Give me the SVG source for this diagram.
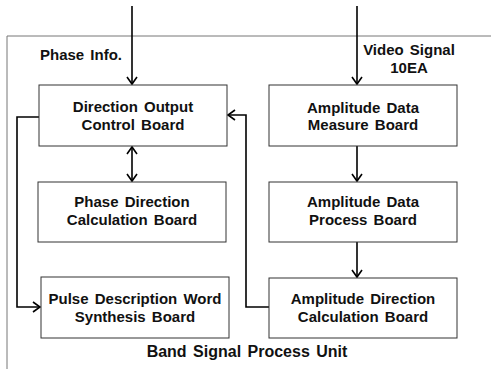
<svg xmlns="http://www.w3.org/2000/svg" width="491" height="369" viewBox="0 0 491 369">
<defs>
<marker id="ah" markerUnits="userSpaceOnUse" markerWidth="14" markerHeight="14" viewBox="-12 -7 14 14" refX="0" refY="0" orient="auto-start-reverse">
<path d="M-7,-5 L0,0 L-7,5" fill="none" stroke="#000" stroke-width="1.6"/>
</marker>
<style>
.box{fill:#fff;stroke:#333;stroke-width:1}
.t{font-family:"Liberation Sans",Arial,sans-serif;font-weight:bold;font-size:15px;fill:#111;text-anchor:middle;word-spacing:2px}
.c{fill:none;stroke:#000;stroke-width:1.6}
</style>
</defs>
<rect width="491" height="369" fill="#fff"/>
<g id="unit">
<path d="M7,369 L7,36 L491,36" fill="none" stroke="#777" stroke-width="1"/>
<text class="t" x="247" y="357" font-size="16" style="font-size:16px">Band Signal Process Unit</text>
</g>
<g id="labels">
<text class="t" x="81" y="60">Phase Info.</text>
<text class="t" x="409" y="55">Video Signal</text>
<text class="t" x="409" y="73">10EA</text>
</g>
<g id="connectors">
<line class="c" x1="132" y1="6" x2="132" y2="84" marker-end="url(#ah)"/>
<line class="c" x1="357" y1="6" x2="357" y2="84" marker-end="url(#ah)"/>
<line class="c" x1="132" y1="147" x2="132" y2="181" marker-start="url(#ah)" marker-end="url(#ah)"/>
<line class="c" x1="357" y1="146" x2="357" y2="181" marker-end="url(#ah)"/>
<line class="c" x1="357" y1="242" x2="357" y2="277" marker-end="url(#ah)"/>
<polyline class="c" points="39,117 17,117 17,307 40,307" marker-end="url(#ah)"/>
<polyline class="c" points="269,307 246,307 246,115 228,115" marker-end="url(#ah)"/>
</g>
<g id="n1"><rect class="box" x="39" y="85" width="188" height="61"/><text class="t" x="133" y="112">Direction Output</text><text class="t" x="133" y="130">Control Board</text></g>
<g id="n2"><rect class="box" x="269" y="85" width="188" height="61"/><text class="t" x="363" y="113">Amplitude Data</text><text class="t" x="363" y="130">Measure Board</text></g>
<g id="n3"><rect class="box" x="38" y="182" width="188" height="60"/><text class="t" x="132" y="207">Phase Direction</text><text class="t" x="132" y="225">Calculation Board</text></g>
<g id="n4"><rect class="box" x="269" y="182" width="188" height="60"/><text class="t" x="363" y="207">Amplitude Data</text><text class="t" x="363" y="225">Process Board</text></g>
<g id="n5"><rect class="box" x="41" y="277" width="188" height="61"/><text class="t" x="135" y="304">Pulse Description Word</text><text class="t" x="135" y="322">Synthesis Board</text></g>
<g id="n6"><rect class="box" x="269" y="278" width="188" height="60"/><text class="t" x="363" y="304">Amplitude Direction</text><text class="t" x="363" y="322">Calculation Board</text></g>
</svg>
